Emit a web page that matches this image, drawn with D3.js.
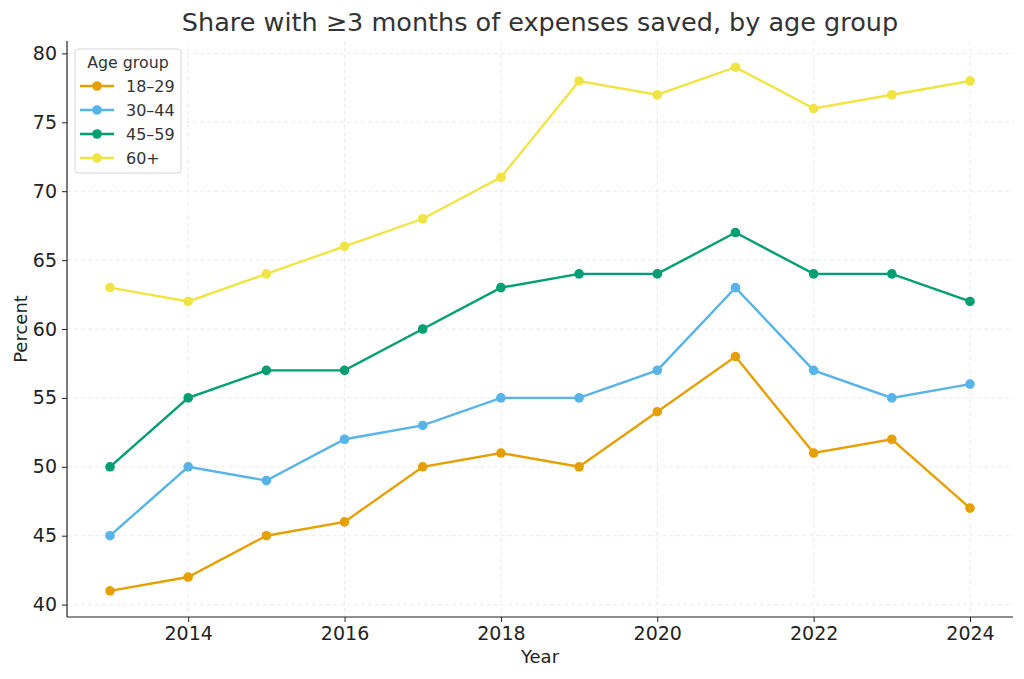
<!DOCTYPE html>
<html>
<head>
<meta charset="utf-8">
<script src="https://cdn.jsdelivr.net/npm/d3@7"></script>
<style>
    body { margin: 0; background: #fff; }
    text { font-family: "DejaVu Sans", sans-serif; }
</style>
</head>
<body>
<div id="chart"></div>
<script>
// data
const years = [2013, 2014, 2015, 2016, 2017, 2018, 2019, 2020, 2021, 2022, 2023, 2024];
const groups = ["18–29", "30–44", "45–59", "60+"];
const age18to29 = [41, 42, 45, 46, 50, 51, 50, 54, 58, 51, 52, 47];
const age30to44 = [45, 50, 49, 52, 53, 55, 55, 57, 63, 57, 55, 56];
const age45to59 = [50, 55, 57, 57, 60, 63, 64, 64, 67, 64, 64, 62];
const age60plus = [63, 62, 64, 66, 68, 71, 78, 77, 79, 76, 77, 78];
const xTicks = [2014, 2016, 2018, 2020, 2022, 2024];
const yTicks = [40, 45, 50, 55, 60, 65, 70, 75, 80];
const colors = ["#E69F00", "#56B4E9", "#009E73", "#F0E442"];

const seriesValues = [age18to29, age30to44, age45to59, age60plus];
const series = groups.map((g, i) => ({
    name: g,
    color: colors[i],
    points: years.map((y, j) => ({ year: y, value: seriesValues[i][j] }))
}));

const width = 1024;
const height = 679;
const margin = { top: 41, right: 11, bottom: 62, left: 67 };

const svg = d3.select("#chart")
    .append("svg")
    .attr("width", width)
    .attr("height", height);

const x = d3.scaleLinear()
    .domain([2012.45, 2024.55])
    .range([margin.left, width - margin.right]);

const y = d3.scaleLinear()
    .domain([39.1, 80.9])
    .range([height - margin.bottom, margin.top]);

// grid
const grid = svg.append("g").attr("stroke", "#e6e6e6").attr("stroke-dasharray", "4,3").attr("stroke-width", 0.8);
grid.selectAll(".gx").data(xTicks).enter().append("line")
    .attr("x1", d => x(d)).attr("x2", d => x(d))
    .attr("y1", margin.top).attr("y2", height - margin.bottom);
grid.selectAll(".gy").data(yTicks).enter().append("line")
    .attr("x1", margin.left).attr("x2", width - margin.right)
    .attr("y1", d => y(d)).attr("y2", d => y(d));

// axes
const xAxis = svg.append("g")
    .attr("transform", `translate(0,${height - margin.bottom})`)
    .call(d3.axisBottom(x).tickValues(xTicks).tickFormat(d3.format("d")).tickSize(5).tickPadding(5));
const yAxis = svg.append("g")
    .attr("transform", `translate(${margin.left},0)`)
    .call(d3.axisLeft(y).tickValues(yTicks).tickSize(5).tickPadding(5));

[xAxis, yAxis].forEach(a => {
    a.select(".domain").attr("stroke", "#222").attr("stroke-width", 1.2);
    a.selectAll(".tick line").attr("stroke", "#222");
    a.selectAll("text").style("font-size", "19px").attr("fill", "#222")
        .style("font-family", "DejaVu Sans, sans-serif");
});
// extend the domain lines to the full plot box, no outer ticks
xAxis.select(".domain").attr("d", `M${margin.left},0H${width - margin.right}`);
yAxis.select(".domain").attr("d", `M0,${margin.top}V${height - margin.bottom}`);

// lines and points
const line = d3.line().x(d => x(d.year)).y(d => y(d.value));

series.forEach(s => {
    svg.append("path")
        .datum(s.points)
        .attr("fill", "none")
        .attr("stroke", s.color)
        .attr("stroke-width", 2.4)
        .attr("d", line);
    svg.selectAll(null)
        .data(s.points)
        .enter()
        .append("circle")
        .attr("cx", d => x(d.year))
        .attr("cy", d => y(d.value))
        .attr("r", 4.8)
        .attr("fill", s.color);
});

// title and axis labels
svg.append("text")
    .attr("x", (margin.left + width - margin.right) / 2)
    .attr("y", 31)
    .style("text-anchor", "middle")
    .style("font-size", "25.5px")
    .attr("fill", "#333")
    .text("Share with ≥3 months of expenses saved, by age group");

svg.append("text")
    .attr("x", (margin.left + width - margin.right) / 2)
    .attr("y", 663)
    .style("text-anchor", "middle")
    .style("font-size", "18px")
    .attr("fill", "#222")
    .text("Year");

svg.append("text")
    .attr("transform", "rotate(-90)")
    .attr("x", -(margin.top + height - margin.bottom) / 2)
    .attr("y", 27)
    .style("text-anchor", "middle")
    .style("font-size", "18px")
    .attr("fill", "#222")
    .text("Percent");

// legend
const legend = svg.append("g").attr("transform", "translate(75,49)");
legend.append("rect")
    .attr("width", 106).attr("height", 124)
    .attr("rx", 3)
    .attr("fill", "#fff").attr("fill-opacity", 0.85)
    .attr("stroke", "#d6d6d6");
legend.append("text")
    .attr("x", 53).attr("y", 19)
    .style("text-anchor", "middle")
    .style("font-size", "15.8px")
    .attr("fill", "#333")
    .text("Age group");
const items = legend.selectAll(".item").data(series).enter().append("g")
    .attr("transform", (d, i) => `translate(0,${37 + i * 24})`);
items.append("line")
    .attr("x1", 5).attr("x2", 39)
    .attr("stroke", d => d.color).attr("stroke-width", 2.4);
items.append("circle")
    .attr("cx", 22).attr("r", 4.8)
    .attr("fill", d => d.color);
items.append("text")
    .attr("x", 51).attr("y", 5.5)
    .style("font-size", "16px")
    .attr("fill", "#333")
    .text(d => d.name);
</script>
</body>
</html>
